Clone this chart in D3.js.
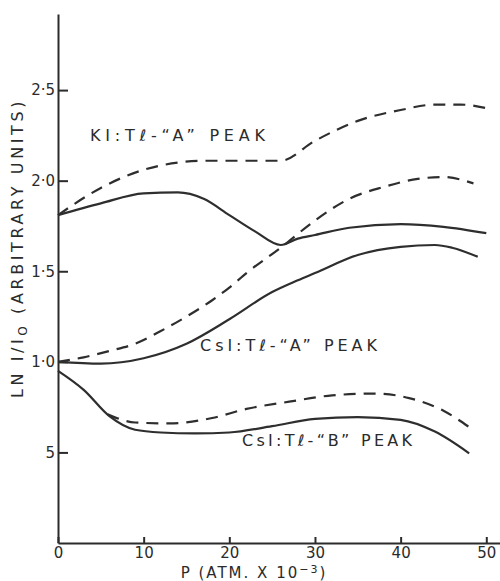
<!DOCTYPE html>
<html>
<head>
<meta charset="utf-8">
<script src="https://cdn.jsdelivr.net/npm/d3@7"></script>
<style>
  body { margin: 0; background: #fff; }
  svg { display: block; }
  text { font-family: "DejaVu Sans", sans-serif; fill: #2b2b2b; }
</style>
</head>
<body>
<div id="chart"></div>
<script>
// Pressure axis ticks and labels
const pTicks = [0, 10, 20, 30, 40, 50];
const lnTicks = [0.5, 1.0, 1.5, 2.0, 2.5];
const lnTickLabels = ["5", "1·0", "1·5", "2·0", "2·5"];

// KI:Tl "A" peak
const kiSolidP = [0, 5, 10, 14, 17, 20, 23, 26, 28, 30, 34, 40, 45, 50];
const kiSolidLn = [1.81, 1.875, 1.93, 1.935, 1.90, 1.81, 1.72, 1.645, 1.68, 1.70, 1.74, 1.76, 1.745, 1.71];
const kiDashP = [0, 5, 10, 14, 17, 20, 23, 26, 30, 35, 40, 44, 47, 50];
const kiDashLn = [1.81, 1.96, 2.06, 2.10, 2.11, 2.11, 2.11, 2.11, 2.22, 2.33, 2.39, 2.42, 2.42, 2.40];

// CsI:Tl "A" peak
const csiASolidP = [0, 5, 10, 15, 20, 25, 28, 30, 35, 40, 44, 46, 49];
const csiASolidLn = [1.0, 0.99, 1.02, 1.10, 1.235, 1.385, 1.45, 1.49, 1.59, 1.635, 1.645, 1.63, 1.58];
const csiADashP = [0, 3, 6, 9, 12, 15, 18, 20, 22, 26, 30, 34, 38, 42, 45, 48.5];
const csiADashLn = [1.0, 1.025, 1.06, 1.10, 1.17, 1.25, 1.34, 1.41, 1.49, 1.63, 1.78, 1.90, 1.965, 2.01, 2.02, 1.985];

// CsI:Tl "B" peak
const csiBSolidP = [0, 3, 6, 9, 12, 16, 20, 25, 30, 35, 40, 44, 48];
const csiBSolidLn = [0.95, 0.845, 0.70, 0.625, 0.61, 0.605, 0.61, 0.645, 0.685, 0.695, 0.68, 0.615, 0.495];
const csiBDashP = [5.8, 9, 13, 18, 22, 27, 32, 37, 41, 45, 48];
const csiBDashLn = [0.71, 0.665, 0.66, 0.69, 0.74, 0.78, 0.815, 0.825, 0.80, 0.73, 0.64];

const series = [
  {P: kiSolidP, Ln: kiSolidLn, dashed: false},
  {P: kiDashP, Ln: kiDashLn, dashed: true},
  {P: csiASolidP, Ln: csiASolidLn, dashed: false},
  {P: csiADashP, Ln: csiADashLn, dashed: true},
  {P: csiBSolidP, Ln: csiBSolidLn, dashed: false},
  {P: csiBDashP, Ln: csiBDashLn, dashed: true},
];

const width = 500, height = 581;
const x = d3.scaleLinear([0, 51.6], [58, 500]);
const y = d3.scaleLinear([0, 2.92], [543, 14]);

const svg = d3.select("#chart").append("svg").attr("width", width).attr("height", height);

// axes
const xAxis = d3.axisBottom(x).tickValues(pTicks).tickSizeInner(-6).tickSizeOuter(0).tickPadding(4);
const yAxis = d3.axisLeft(y).tickValues(lnTicks).tickSizeInner(-10).tickSizeOuter(0).tickPadding(3)
  .tickFormat((d, i) => lnTickLabels[i]);

const gx = svg.append("g").attr("transform", `translate(0,${y(0)})`).call(xAxis);
const gy = svg.append("g").attr("transform", `translate(${x(0)},0)`).call(yAxis);
for (const g of [gx, gy]) {
  g.select(".domain").attr("stroke", "#2b2b2b").attr("stroke-width", 2);
  g.selectAll(".tick line").attr("stroke", "#2b2b2b").attr("stroke-width", 2);
  g.selectAll(".tick text").attr("font-size", 15).attr("fill", "#2b2b2b")
    .attr("font-family", "DejaVu Sans, sans-serif");
}

// curves
const line = d3.line().x((d) => x(d[0])).y((d) => y(d[1])).curve(d3.curveMonotoneX);
svg.append("g").selectAll("path")
  .data(series)
  .join("path")
  .attr("d", (s) => line(d3.zip(s.P, s.Ln)))
  .attr("fill", "none")
  .attr("stroke", "#2e2e2e")
  .attr("stroke-width", 2.2)
  .attr("stroke-dasharray", (s) => (s.dashed ? "12,8" : null));

// curve labels
const labels = [
  {text: "KI:Tℓ-“A” PEAK", x0: 90, x1: 265, base: 141},
  {text: "CsI:Tℓ-“A” PEAK", x0: 200, x1: 377, base: 351},
  {text: "CsI:Tℓ-“B” PEAK", x0: 242, x1: 412, base: 446},
];
svg.append("g").selectAll("text")
  .data(labels)
  .join("text")
  .attr("x", (d) => d.x0)
  .attr("y", (d) => d.base)
  .attr("font-size", 16)
  .attr("textLength", (d) => d.x1 - d.x0)
  .attr("lengthAdjust", "spacing")
  .text((d) => d.text);

// axis titles
const xt = svg.append("text")
  .attr("x", 254).attr("y", 578)
  .attr("text-anchor", "middle")
  .attr("font-size", 15)
  .attr("letter-spacing", 2);
xt.append("tspan").text("P  (ATM. X 10");
xt.append("tspan").attr("dy", -5).attr("font-size", 11).text("−3");
xt.append("tspan").attr("dy", 5).text(")");

const yt = svg.append("text")
  .attr("transform", "translate(23,248) rotate(-90)")
  .attr("text-anchor", "middle")
  .attr("font-size", 16)
  .attr("letter-spacing", 3.6);
yt.append("tspan").text("LN I/I");
yt.append("tspan").attr("dy", 4).attr("font-size", 12).text("O");
yt.append("tspan").attr("dy", -4).text(" (ARBITRARY UNITS)");
</script>
</body>
</html>
